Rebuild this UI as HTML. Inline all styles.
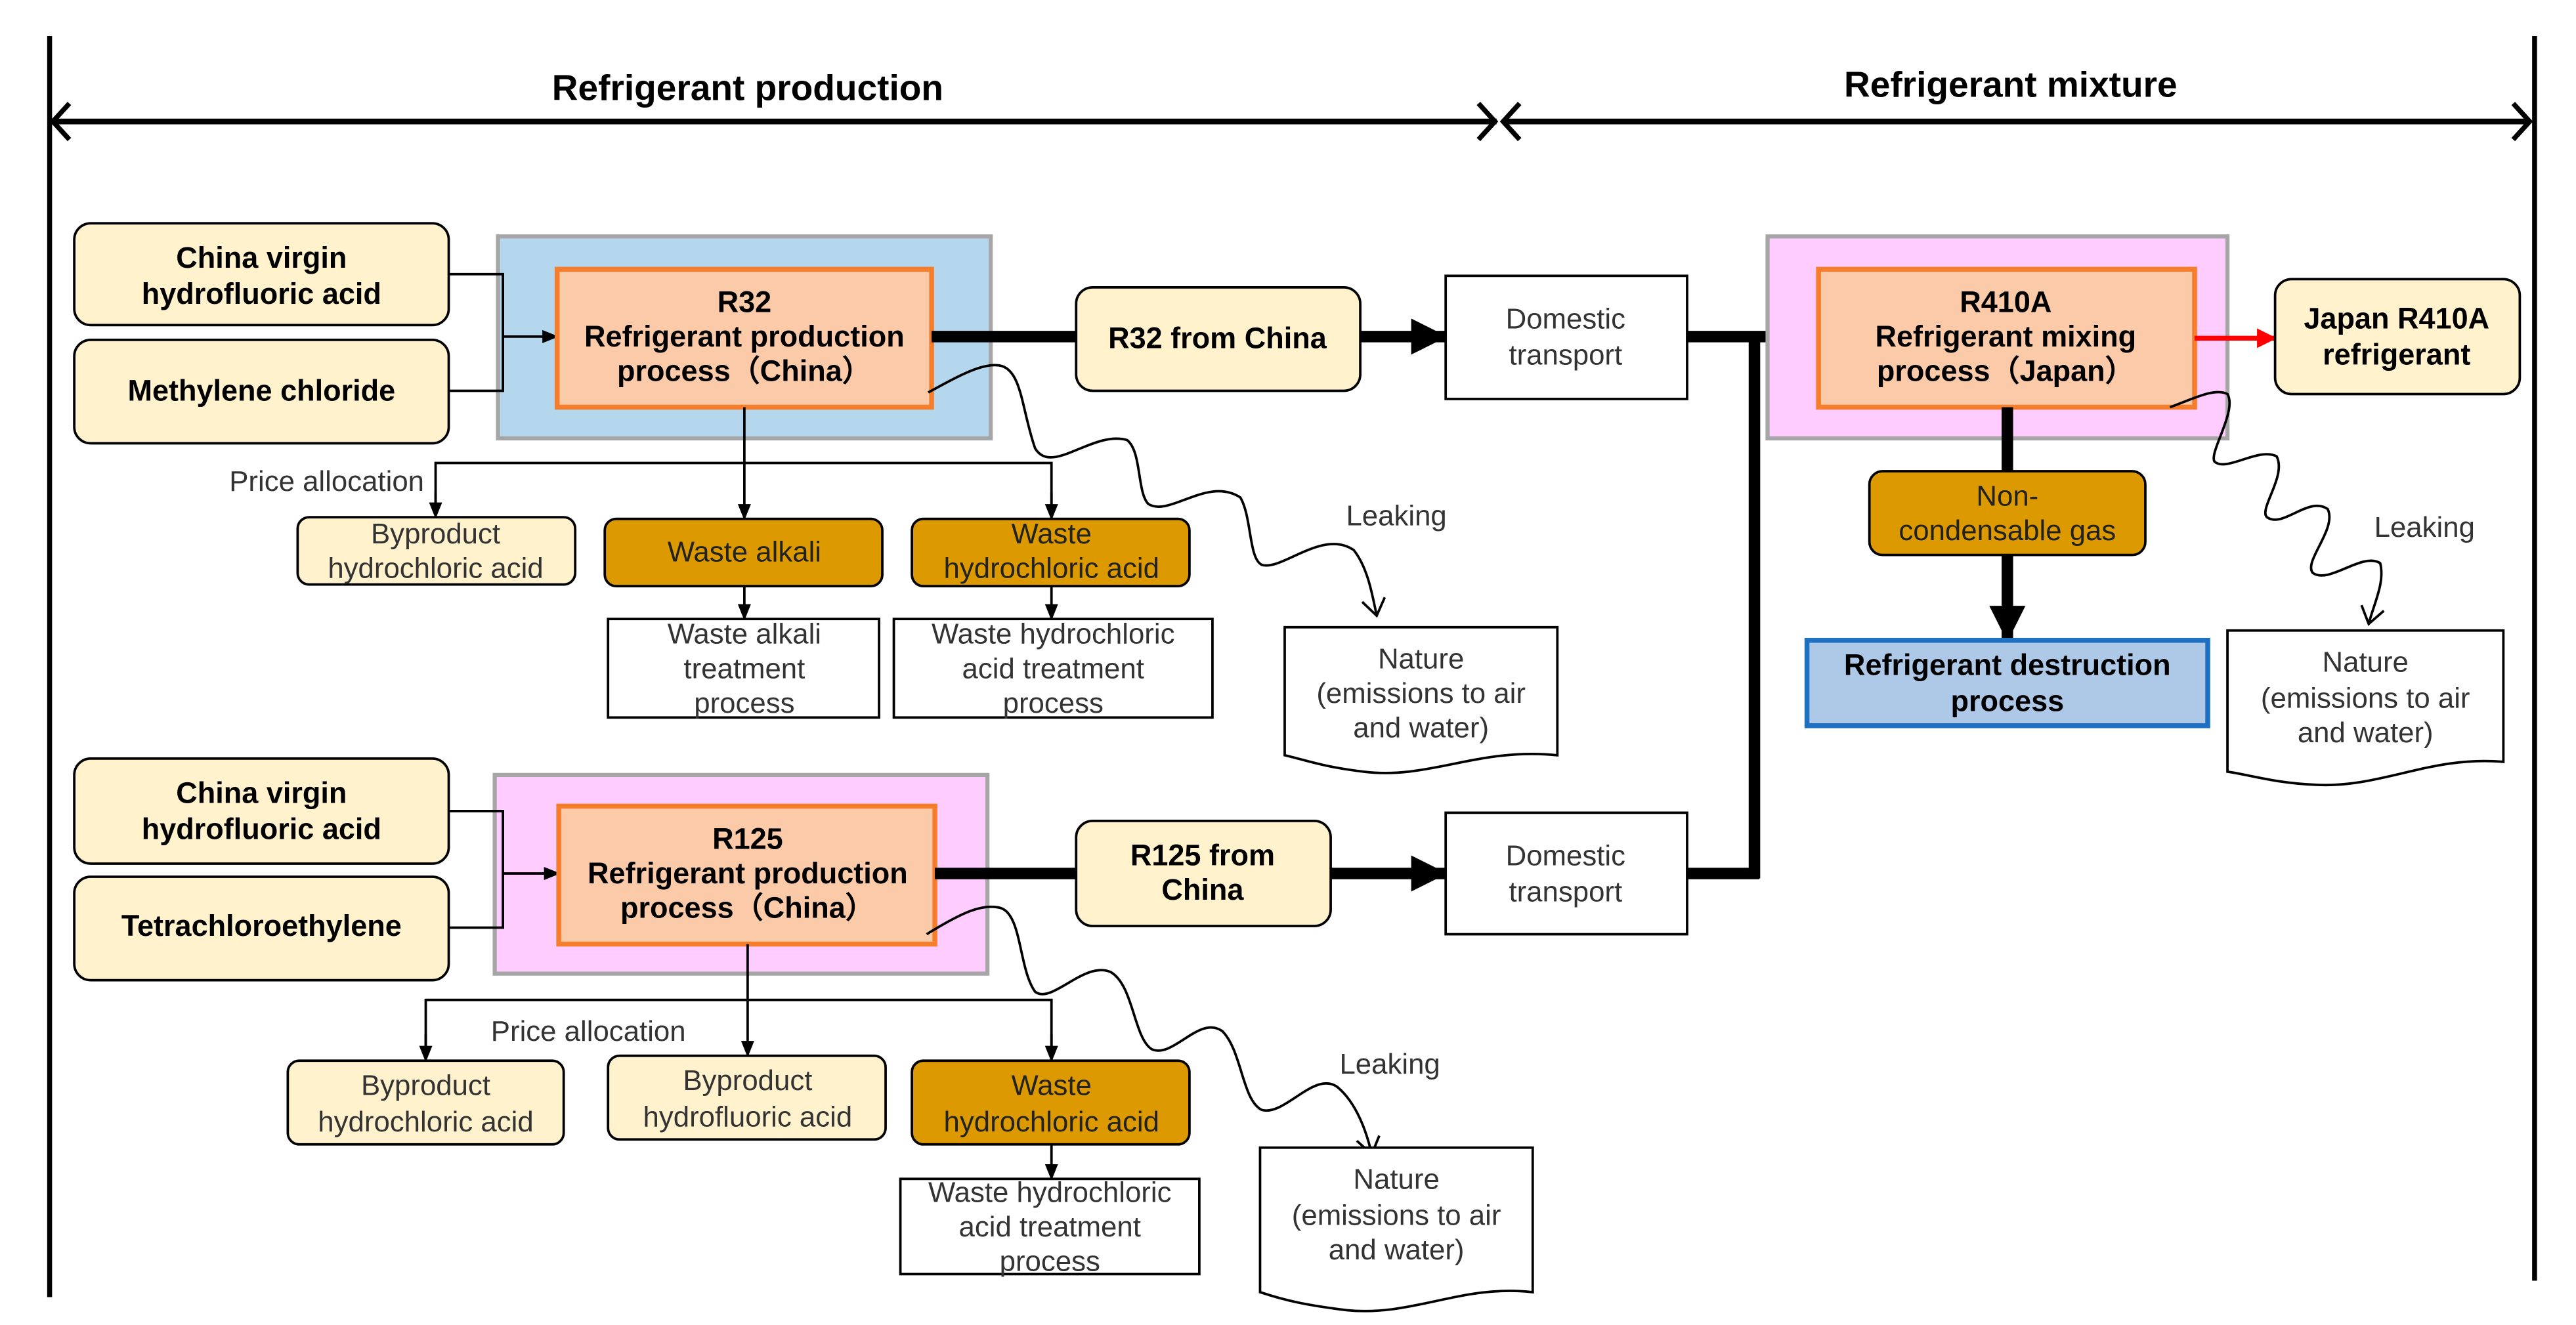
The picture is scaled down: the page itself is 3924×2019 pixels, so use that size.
<!DOCTYPE html>
<html><head><meta charset="utf-8"><style>
html,body{margin:0;padding:0;background:#fff}
svg{display:block}
text{font-family:"Liberation Sans","DejaVu Sans",sans-serif;text-anchor:middle}
.b{font-weight:bold;fill:#000;font-size:18px}
.n{fill:#333;font-size:17.5px}
</style></head><body>
<svg width="3924" height="2019" viewBox="0 0 1568 807" xmlns="http://www.w3.org/2000/svg">
<defs>
<marker id="a" markerWidth="10" markerHeight="10" refX="9" refY="5" orient="auto" markerUnits="userSpaceOnUse"><path d="M0,1 L10,5 L0,9 Z" fill="#000"/></marker>
<marker id="A" markerWidth="22" markerHeight="22" refX="21" refY="11" orient="auto" markerUnits="userSpaceOnUse"><path d="M0,0 L22,11 L0,22 Z" fill="#000"/></marker>
<marker id="R" markerWidth="12" markerHeight="12" refX="11" refY="6" orient="auto" markerUnits="userSpaceOnUse"><path d="M0,0 L12,6 L0,12 Z" fill="#f00"/></marker>
<marker id="o" markerWidth="14" markerHeight="16" refX="12" refY="8" orient="auto" markerUnits="userSpaceOnUse"><path d="M2,1 L12,8 L2,15" fill="none" stroke="#000" stroke-width="1.5"/></marker>
</defs>
<line x1="30" y1="22" x2="30" y2="790" stroke="#000" stroke-width="3"/>
<line x1="1543" y1="22" x2="1543" y2="780" stroke="#000" stroke-width="3"/>
<line x1="31" y1="74" x2="911" y2="74" stroke="#000" stroke-width="3.5"/>
<path d="M42,63 L32,74 L42,85 M900,63 L910,74 L900,85 M925,63 L915,74 L925,85 M1530,63 L1540,74 L1530,85" fill="none" stroke="#000" stroke-width="3"/>
<line x1="915" y1="74" x2="1540" y2="74" stroke="#000" stroke-width="3.5"/>
<text x="455" y="61" class="b" style="font-size:22px">Refrigerant production</text>
<text x="1224" y="59" class="b" style="font-size:22px">Refrigerant mixture</text>

<rect x="303" y="144" width="300" height="123" fill="#b4d7ee" stroke="#a6a6a6" stroke-width="2.5"/>
<rect x="45" y="136" width="228" height="62" rx="10" fill="#fff2cc" stroke="#000" stroke-width="1.5"/>
<text class="b" x="159" y="163">China virgin</text><text class="b" x="159" y="185">hydrofluoric acid</text>
<rect x="45" y="207" width="228" height="63" rx="10" fill="#fff2cc" stroke="#000" stroke-width="1.5"/>
<text class="b" x="159" y="244">Methylene chloride</text>
<path d="M273,167 H306 V238 H273" fill="none" stroke="#000" stroke-width="1.5"/>
<line x1="306" y1="205" x2="339" y2="205" stroke="#000" stroke-width="1.5" marker-end="url(#a)"/>
<rect x="339" y="164" width="228" height="84" fill="#fbcaa9" stroke="#f47e2b" stroke-width="3"/>
<text class="b" x="453" y="190">R32</text><text class="b" x="453" y="211">Refrigerant production</text><text class="b" x="453" y="232">process（China）</text>

<line x1="567" y1="205" x2="655" y2="205" stroke="#000" stroke-width="7"/>
<rect x="655" y="175" width="173" height="63" rx="10" fill="#fff2cc" stroke="#000" stroke-width="1.5"/>
<text class="b" x="741" y="212">R32 from China</text>
<line x1="828" y1="205" x2="880" y2="205" stroke="#000" stroke-width="7" marker-end="url(#A)"/>
<rect x="880" y="168" width="147" height="75" fill="#fff" stroke="#000" stroke-width="1.5"/>
<text class="n" x="953" y="200">Domestic</text><text class="n" x="953" y="222">transport</text>

<line x1="453" y1="248" x2="453" y2="316" stroke="#000" stroke-width="1.5" marker-end="url(#a)"/>
<path d="M265,314 V282 H640 V314" fill="none" stroke="#000" stroke-width="1.5"/>
<line x1="265" y1="300" x2="265" y2="315" stroke="#000" stroke-width="1.5" marker-end="url(#a)"/>
<line x1="640" y1="300" x2="640" y2="316" stroke="#000" stroke-width="1.5" marker-end="url(#a)"/>
<text class="n" x="258" y="299" style="text-anchor:end">Price allocation</text>
<rect x="181" y="315" width="169" height="41" rx="7" fill="#fff2cc" stroke="#000" stroke-width="1.5"/>
<text class="n" x="265" y="331">Byproduct</text><text class="n" x="265" y="352">hydrochloric acid</text>
<rect x="368" y="316" width="169" height="41" rx="7" fill="#dd9a00" stroke="#000" stroke-width="1.5"/>
<text class="n" x="453" y="342" style="fill:#222">Waste alkali</text>
<rect x="555" y="316" width="169" height="41" rx="7" fill="#dd9a00" stroke="#000" stroke-width="1.5"/>
<text class="n" x="640" y="331" style="fill:#222">Waste</text><text class="n" x="640" y="352" style="fill:#222">hydrochloric acid</text>
<line x1="453" y1="357" x2="453" y2="377" stroke="#000" stroke-width="1.5" marker-end="url(#a)"/>
<line x1="640" y1="357" x2="640" y2="377" stroke="#000" stroke-width="1.5" marker-end="url(#a)"/>
<rect x="370" y="377" width="165" height="60" fill="#fff" stroke="#000" stroke-width="1.5"/>
<text class="n" x="453" y="392">Waste alkali</text><text class="n" x="453" y="413">treatment</text><text class="n" x="453" y="434">process</text>
<rect x="544" y="377" width="194" height="60" fill="#fff" stroke="#000" stroke-width="1.5"/>
<text class="n" x="641" y="392">Waste hydrochloric</text><text class="n" x="641" y="413">acid treatment</text><text class="n" x="641" y="434">process</text>

<path d="M565,239 C585,228 600,220 610,223 C622,227 622,250 630,273 C640,290 665,262 686,268 C695,275 692,300 699,307 C712,315 735,290 755,303 C762,315 760,340 768,344 C780,348 805,322 824,335 C832,345 835,360 838,375" fill="none" stroke="#000" stroke-width="1.5" marker-end="url(#o)"/>
<text class="n" x="850" y="320">Leaking</text>
<path d="M782,382 H948 V460 C900,455 870,475 830,470 C805,467 795,463 782,460 Z" fill="#fff" stroke="#000" stroke-width="1.5"/>
<text class="n" x="865" y="407">Nature</text><text class="n" x="865" y="428">(emissions to air</text><text class="n" x="865" y="449">and water)</text>

<rect x="301" y="472" width="300" height="121" fill="#ffccff" stroke="#a6a6a6" stroke-width="2.5"/>
<rect x="45" y="462" width="228" height="64" rx="10" fill="#fff2cc" stroke="#000" stroke-width="1.5"/>
<text class="b" x="159" y="489">China virgin</text><text class="b" x="159" y="511">hydrofluoric acid</text>
<rect x="45" y="534" width="228" height="63" rx="10" fill="#fff2cc" stroke="#000" stroke-width="1.5"/>
<text class="b" x="159" y="570">Tetrachloroethylene</text>
<path d="M273,494 H306 V565 H273" fill="none" stroke="#000" stroke-width="1.5"/>
<line x1="306" y1="532" x2="340" y2="532" stroke="#000" stroke-width="1.5" marker-end="url(#a)"/>
<rect x="340" y="491" width="229" height="84" fill="#fbcaa9" stroke="#f47e2b" stroke-width="3"/>
<text class="b" x="455" y="517">R125</text><text class="b" x="455" y="538">Refrigerant production</text><text class="b" x="455" y="559">process（China）</text>

<line x1="569" y1="532" x2="655" y2="532" stroke="#000" stroke-width="7"/>
<rect x="655" y="500" width="155" height="64" rx="10" fill="#fff2cc" stroke="#000" stroke-width="1.5"/>
<text class="b" x="732" y="527">R125 from</text><text class="b" x="732" y="548">China</text>
<line x1="810" y1="532" x2="880" y2="532" stroke="#000" stroke-width="7" marker-end="url(#A)"/>
<rect x="880" y="495" width="147" height="74" fill="#fff" stroke="#000" stroke-width="1.5"/>
<text class="n" x="953" y="527">Domestic</text><text class="n" x="953" y="549">transport</text>

<line x1="455" y1="575" x2="455" y2="643" stroke="#000" stroke-width="1.5" marker-end="url(#a)"/>
<path d="M259,645 V609 H640 V645" fill="none" stroke="#000" stroke-width="1.5"/>
<line x1="259" y1="630" x2="259" y2="646" stroke="#000" stroke-width="1.5" marker-end="url(#a)"/>
<line x1="640" y1="630" x2="640" y2="646" stroke="#000" stroke-width="1.5" marker-end="url(#a)"/>
<text class="n" x="358" y="634">Price allocation</text>
<rect x="175" y="646" width="168" height="51" rx="7" fill="#fff2cc" stroke="#000" stroke-width="1.5"/>
<text class="n" x="259" y="667">Byproduct</text><text class="n" x="259" y="689">hydrochloric acid</text>
<rect x="370" y="643" width="169" height="51" rx="7" fill="#fff2cc" stroke="#000" stroke-width="1.5"/>
<text class="n" x="455" y="664">Byproduct</text><text class="n" x="455" y="686">hydrofluoric acid</text>
<rect x="555" y="646" width="169" height="51" rx="7" fill="#dd9a00" stroke="#000" stroke-width="1.5"/>
<text class="n" x="640" y="667" style="fill:#222">Waste</text><text class="n" x="640" y="689" style="fill:#222">hydrochloric acid</text>
<line x1="640" y1="697" x2="640" y2="718" stroke="#000" stroke-width="1.5" marker-end="url(#a)"/>
<rect x="548" y="718" width="182" height="58" fill="#fff" stroke="#000" stroke-width="1.5"/>
<text class="n" x="639" y="732">Waste hydrochloric</text><text class="n" x="639" y="753">acid treatment</text><text class="n" x="639" y="774">process</text>

<path d="M564,569 C585,556 598,550 609,553 C622,557 620,590 630,604 C640,612 660,585 676,592 C690,600 690,632 701,639 C714,645 730,618 744,628 C756,640 756,670 768,676 C782,680 800,652 814,662 C826,672 832,690 835,703" fill="none" stroke="#000" stroke-width="1.5" marker-end="url(#o)"/>
<text class="n" x="846" y="654">Leaking</text>
<path d="M767,699 H933 V787 C890,782 860,802 820,798 C795,795 782,792 767,787 Z" fill="#fff" stroke="#000" stroke-width="1.5"/>
<text class="n" x="850" y="724">Nature</text><text class="n" x="850" y="746">(emissions to air</text><text class="n" x="850" y="767">and water)</text>

<line x1="1027" y1="532" x2="1071" y2="532" stroke="#000" stroke-width="7"/>
<line x1="1068" y1="205" x2="1068" y2="535" stroke="#000" stroke-width="7"/>
<line x1="1027" y1="205" x2="1107" y2="205" stroke="#000" stroke-width="7" marker-end="url(#A)"/>

<rect x="1076" y="144" width="280" height="123" fill="#ffccff" stroke="#a6a6a6" stroke-width="2.5"/>
<rect x="1107" y="164" width="229" height="84" fill="#fbcaa9" stroke="#f47e2b" stroke-width="3"/>
<text class="b" x="1221" y="190">R410A</text><text class="b" x="1221" y="211">Refrigerant mixing</text><text class="b" x="1221" y="232">process（Japan）</text>
<line x1="1336" y1="206" x2="1385" y2="206" stroke="#f00" stroke-width="3" marker-end="url(#R)"/>
<rect x="1385" y="170" width="149" height="70" rx="10" fill="#fff2cc" stroke="#000" stroke-width="1.5"/>
<text class="b" x="1459" y="200">Japan R410A</text><text class="b" x="1459" y="222">refrigerant</text>
<line x1="1222" y1="248" x2="1222" y2="287" stroke="#000" stroke-width="7"/>
<rect x="1138" y="287" width="168" height="51" rx="8" fill="#dd9a00" stroke="#000" stroke-width="1.5"/>
<text class="n" x="1222" y="308" style="fill:#222">Non-</text><text class="n" x="1222" y="329" style="fill:#222">condensable gas</text>
<line x1="1222" y1="338" x2="1222" y2="390" stroke="#000" stroke-width="7" marker-end="url(#A)"/>
<rect x="1100" y="390" width="244" height="52" fill="#aec8e8" stroke="#1f70c1" stroke-width="3"/>
<text class="b" x="1222" y="411">Refrigerant destruction</text><text class="b" x="1222" y="433">process</text>
<path d="M1321,248 C1335,243 1348,236 1356,240 C1362,250 1345,275 1348,281 C1355,288 1375,272 1386,278 C1392,290 1375,310 1380,315 C1390,322 1405,302 1417,310 C1423,322 1402,342 1408,349 C1418,356 1438,336 1449,343 C1452,355 1445,368 1442,380" fill="none" stroke="#000" stroke-width="1.5" marker-end="url(#o)"/>
<text class="n" x="1476" y="327">Leaking</text>
<path d="M1356,384 H1524 V464 C1480,460 1450,480 1410,478 C1385,477 1370,472 1356,470 Z" fill="#fff" stroke="#000" stroke-width="1.5"/>
<text class="n" x="1440" y="409">Nature</text><text class="n" x="1440" y="431">(emissions to air</text><text class="n" x="1440" y="452">and water)</text>
</svg>
</body></html>
